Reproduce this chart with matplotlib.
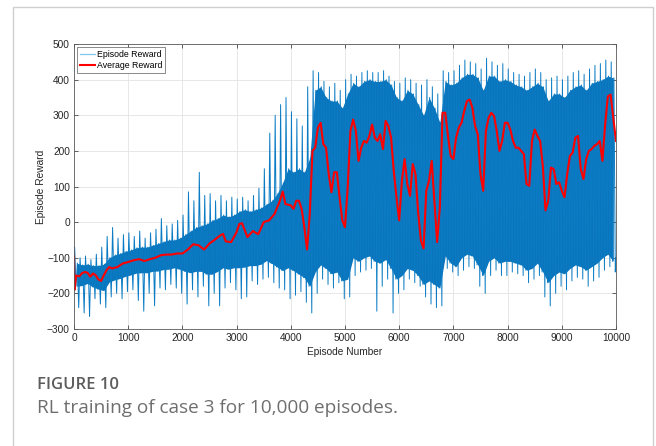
import matplotlib
matplotlib.use('Agg')
import matplotlib.pyplot as plt
from matplotlib.patches import Rectangle
import numpy as np

# episode reward, read per block of 100 episodes (0-99, 100-199, ...)
reward_peak = [-70, -100, -95, -105, -90, -70, -40, -15, -45, -35,
               -30, -40, -25, -45, -30, -20, 10, -10, -5, 5,
               20, 85, 60, 140, 75, 80, 60, 75, 60, 70,
               65, 70, 60, 75, 95, 150, 250, 300, 330, 350,
               310, 290, 270, 380, 425, 420, 395, 380, 390, 370,
               400, 415, 410, 420, 425, 420, 420, 425, 410, 395,
               390, 405, 400, 390, 385, 400, 380, 360, 425, 420,
               425, 440, 455, 450, 445, 430, 460, 450, 440, 445,
               430, 420, 415, 410, 420, 430, 420, 400, 405, 410,
               400, 410, 420, 425, 415, 430, 440, 445, 455, 450]
band_top = [-115, -120, -118, -122, -122, -118, -100, -92, -88, -82,
            -78, -72, -70, -70, -65, -60, -55, -50, -50, -45,
            -35, -25, -15, -10, -5, 5, 10, 20, 15, 20,
            30, 35, 30, 35, 40, 50, 60, 80, 110, 150,
            140, 150, 140, 180, 370, 380, 350, 340, 340, 320,
            360, 390, 380, 395, 400, 395, 395, 400, 385, 350,
            340, 370, 360, 330, 300, 350, 320, 280, 395, 385,
            390, 405, 415, 415, 405, 370, 410, 410, 395, 400,
            395, 385, 380, 370, 380, 390, 380, 340, 360, 360,
            350, 370, 380, 385, 370, 390, 395, 400, 410, 405]
band_bottom = [-180, -178, -172, -182, -188, -192, -168, -162, -158, -152,
               -148, -143, -142, -142, -138, -137, -133, -132, -128, -132,
               -138, -142, -138, -138, -146, -146, -138, -128, -132, -128,
               -128, -126, -122, -122, -118, -108, -116, -126, -136, -128,
               -136, -146, -156, -180, -140, -120, -130, -145, -140, -165,
               -160, -100, -110, -100, -95, -110, -115, -105, -130, -160,
               -150, -130, -135, -150, -175, -165, -175, -185, -95, -115,
               -125, -100, -90, -95, -120, -150, -110, -100, -115, -110,
               -110, -115, -120, -135, -130, -115, -140, -170, -150, -140,
               -145, -130, -120, -125, -135, -125, -115, -100, -90, -110]
reward_trough = [-240, -255, -265, -215, -230, -240, -210, -200, -215, -195,
                 -190, -220, -250, -200, -235, -185, -190, -175, -185, -200,
                 -230, -190, -210, -180, -235, -200, -235, -185, -170, -190,
                 -215, -210, -165, -175, -160, -155, -170, -185, -190, -215,
                 -205, -195, -225, -255, -200, -160, -175, -185, -170, -215,
                 -210, -150, -140, -135, -130, -250, -180, -160, -255, -200,
                 -190, -160, -170, -180, -210, -230, -240, -235, -130, -140,
                 -150, -135, -125, -130, -180, -200, -150, -135, -150, -150,
                 -140, -145, -150, -170, -160, -150, -210, -235, -200, -180,
                 -190, -165, -155, -160, -180, -165, -155, -135, -125, -140]

# running average reward
avg_episode = [0, 10, 40, 100, 150, 200, 250, 300, 350, 400, 450, 500, 550, 600, 650,
               700, 800, 900, 1000, 1100, 1200, 1300, 1400, 1500, 1600, 1700, 1800,
               1900, 2000, 2100, 2200, 2300, 2400, 2500, 2600, 2700, 2750, 2800, 2900,
               3000, 3050, 3100, 3200, 3300, 3400, 3500, 3600, 3700, 3800, 3850, 3900,
               4000, 4050, 4100, 4150, 4200, 4250, 4300, 4350, 4400, 4450, 4500, 4550,
               4600, 4650, 4700, 4750, 4800, 4850, 4900, 4950, 5000, 5050, 5100, 5150,
               5200, 5250, 5300, 5350, 5400, 5450, 5500, 5550, 5600, 5650, 5700, 5750,
               5800, 5850, 5900, 5950, 6000, 6050, 6100, 6150, 6200, 6250, 6300, 6350,
               6400, 6450, 6500, 6550, 6600, 6650, 6700, 6750, 6800, 6850, 6900, 6950,
               7000, 7050, 7100, 7150, 7200, 7250, 7300, 7350, 7400, 7450, 7500, 7550,
               7600, 7650, 7700, 7750, 7800, 7850, 7900, 7950, 8000, 8050, 8100, 8150,
               8200, 8250, 8300, 8350, 8400, 8450, 8500, 8550, 8600, 8650, 8700, 8750,
               8800, 8850, 8900, 8950, 9000, 9050, 9100, 9150, 9200, 9250, 9300, 9350,
               9400, 9450, 9500, 9550, 9600, 9650, 9700, 9750, 9800, 9850, 9900, 9950,
               10000]
avg_reward = [-95, -190, -150, -152, -143, -140, -142, -153, -144, -149, -161, -165, -149, -135, -126,
              -130, -126, -116, -112, -107, -104, -109, -104, -100, -93, -91, -91,
              -88, -88, -77, -62, -65, -77, -60, -49, -37, -33, -54, -56,
              -28, -5, -3, -42, -25, -34, 0, 5, 23, 60, 86, 51,
              47, 37, 60, 60, 37, -14, -77, 23, 200, 209, 265, 279,
              219, 209, 135, 84, 140, 140, 70, 5, -14, 98, 256, 288,
              256, 172, 209, 228, 223, 242, 274, 237, 228, 247, 205, 284,
              270, 237, 144, 70, 5, 116, 177, 107, 74, 163, 135, 28,
              -51, -74, 88, 116, 172, 60, -56, 42, 307, 307, 242, 186,
              177, 237, 265, 279, 312, 340, 344, 321, 270, 247, 135, 88,
              256, 293, 307, 298, 256, 200, 228, 279, 279, 260, 228, 209,
              209, 200, 191, 107, 102, 228, 260, 242, 228, 158, 33, 60,
              153, 149, 107, 112, 88, 70, 135, 186, 195, 237, 242, 149,
              121, 177, 200, 205, 214, 219, 228, 172, 274, 353, 358, 293,
              228]

plt.rcParams['font.family'] = ['Liberation Sans', 'DejaVu Sans']

block_mid = np.arange(len(reward_peak)) * 100 + 50

# zigzag through the read extremes of each block
ep_x, ep_y = [], []
for i in range(len(reward_peak)):
    start = i * 100
    ep_x += [start + 12, start + 37, start + 62, start + 87]
    ep_y += [reward_peak[i], band_bottom[i], band_top[i], reward_trough[i]]
ep_x = [0] + ep_x + [10000]
ep_y = [-150] + ep_y + [-100]

fig = plt.figure(figsize=(6.56, 4.46), dpi=100)
fig.patches.append(Rectangle((0.0198, -0.05), 0.9756, 1.034, transform=fig.transFigure,
                             fill=False, edgecolor='#cfcfcf', linewidth=1.0))

ax = fig.add_axes([0.1128, 0.2623, 0.8262, 0.639])
# dense body of the reward trace
ax.fill_between(block_mid, band_bottom, band_top, color='#0a74bc', linewidth=0)
ax.plot(ep_x, ep_y, color='#0b7cc4', linewidth=0.7, label='Episode Reward')
ax.plot(avg_episode, avg_reward, color='#FF0000', linewidth=1.5, label='Average Reward')

ax.set_xlim(0, 10000)
ax.set_ylim(-300, 500)
ax.set_xticks(np.arange(0, 10001, 1000))
ax.set_yticks(np.arange(-300, 501, 100))
ax.grid(True, color='#e3e3e3', linewidth=0.6)
ax.set_axisbelow(True)
ax.tick_params(direction='in', length=3, width=0.5, labelsize=7.3, colors='#262626',
               top=True, right=True, pad=3)
for s in ax.spines.values():
    s.set_color('#5a5a5a')
    s.set_linewidth(0.6)
ax.set_xlabel('Episode Number', fontsize=7.3, color='#262626', labelpad=3)
ax.set_ylabel('Episode Reward', fontsize=7.3, color='#262626', labelpad=0.5)

leg = ax.legend(loc='upper left', fontsize=6.3, fancybox=False, framealpha=1,
                edgecolor='#5a5a5a', borderpad=0.35, handlelength=1.7,
                handletextpad=0.2, labelspacing=0.2, borderaxespad=0.35)
leg.get_frame().set_linewidth(0.5)
leg.get_lines()[0].set_color('#7ec8ee')
leg.get_lines()[0].set_linewidth(0.9)

fig.text(0.0564, 0.128, 'FIGURE 10', fontsize=12, fontweight='semibold',
         family='Open Sans', color='#5c5c5c')
fig.text(0.0564, 0.074, 'RL training of case 3 for 10,000 episodes.', fontsize=13.7,
         family='Open Sans', color='#6e6e6e')

fig.savefig('out.png', dpi=100)
